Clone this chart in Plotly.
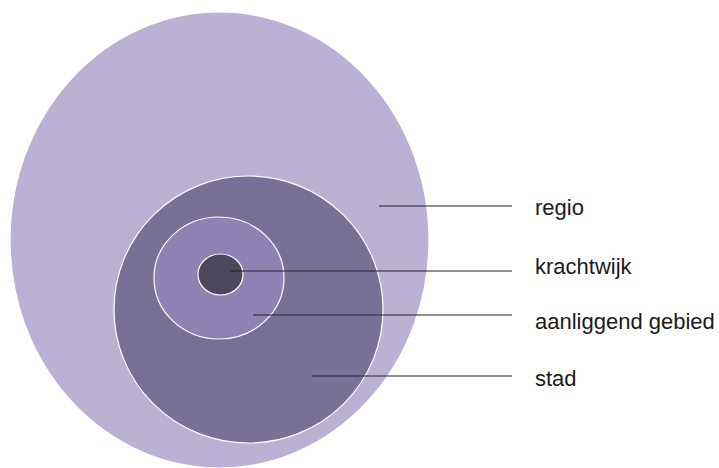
import plotly.graph_objects as go

# zones, from outer to inner (diagram units = pixels of the 719x468 canvas)
zones = ['regio', 'stad', 'aanliggend gebied', 'krachtwijk']
zone_x0 = [10, 114, 154, 198]
zone_x1 = [429, 383, 284, 243]
zone_y0 = [12, 176, 217, 254]
zone_y1 = [468, 443, 339, 295]
zone_colors = ['#BBB1D5', '#787096', '#8F83B6', '#4E485F']

# leader lines and labels (top to bottom)
labels = ['regio', 'krachtwijk', 'aanliggend gebied', 'stad']
line_start = [379, 230, 253, 312]
line_y = [206, 271, 315, 376]
label_y = [207, 266, 321, 378]
line_end = 512
label_x = 533

fig = go.Figure()

shapes = []
for i in range(len(zones)):
    shapes.append(dict(type='circle', xref='x', yref='y',
                       x0=zone_x0[i], x1=zone_x1[i], y0=zone_y0[i], y1=zone_y1[i],
                       fillcolor=zone_colors[i], line=dict(color='white', width=1.2),
                       layer='below'))

# leader lines as traces so they sit on top of the shapes
for i in range(len(labels)):
    fig.add_trace(go.Scatter(x=[line_start[i], line_end], y=[line_y[i], line_y[i]],
                             mode='lines', line=dict(color='#222228', width=1.2),
                             hoverinfo='skip', showlegend=False))

for i in range(len(labels)):
    fig.add_annotation(x=label_x, y=label_y[i], text=labels[i], showarrow=False,
                       xanchor='left', yanchor='middle',
                       font=dict(family='Liberation Sans, Arial', size=22, color='#1a1a1a'))

fig.update_layout(
    width=719, height=468,
    margin=dict(l=0, r=0, t=0, b=0),
    paper_bgcolor='white', plot_bgcolor='white',
    shapes=shapes,
    xaxis=dict(range=[0, 719], visible=False, fixedrange=True),
    yaxis=dict(range=[468, 0], visible=False, fixedrange=True),
)

# drop the default page margin so the figure fills the window
fig.write_html("out.html", config={'displayModeBar': False},
               post_script="document.body.style.margin='0';document.body.style.overflow='hidden';")
